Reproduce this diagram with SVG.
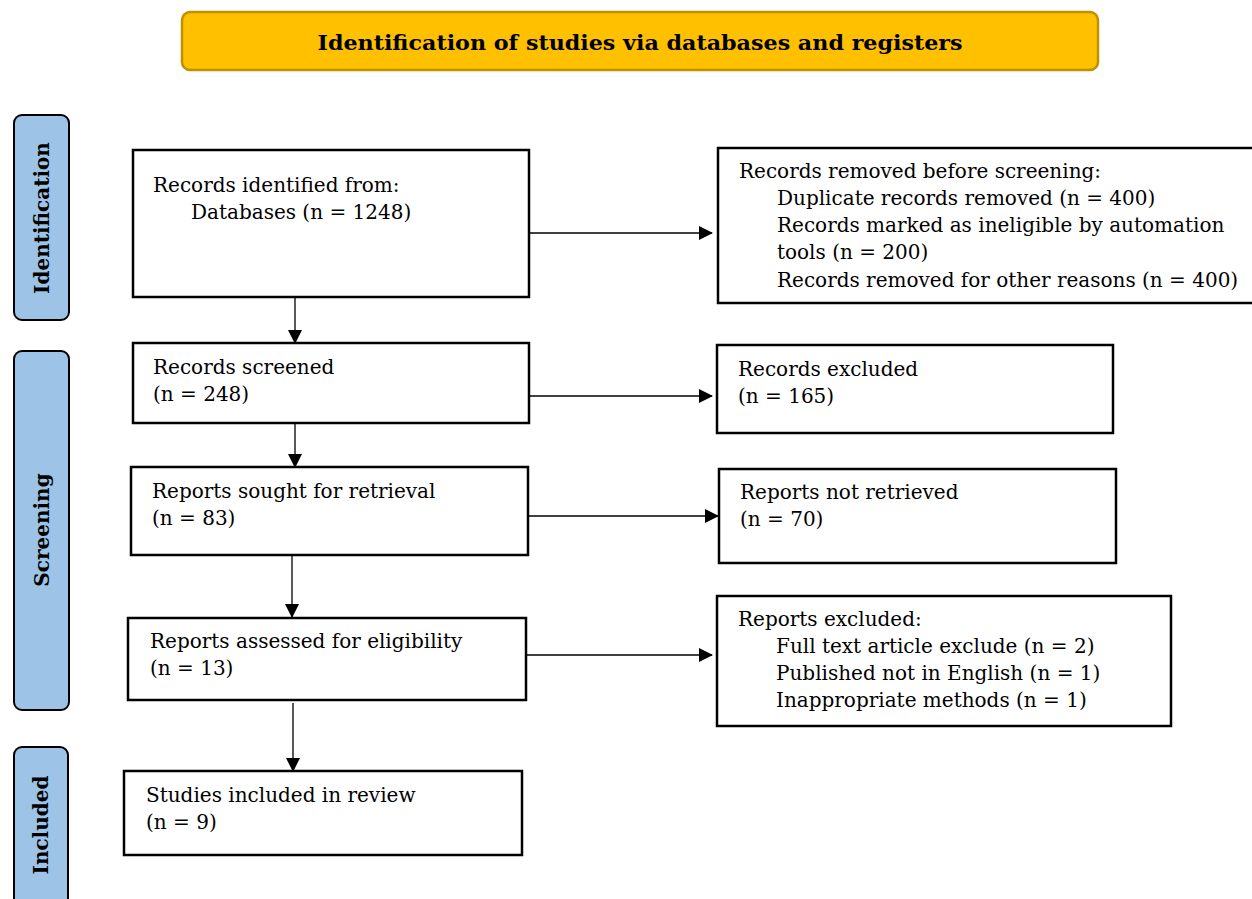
<svg xmlns="http://www.w3.org/2000/svg" width="1252" height="899" viewBox="0 0 1252 899">
<style>
.box{fill:#fff;stroke:#000;stroke-width:2.5}
.side{fill:#9DC3E6;stroke:#000;stroke-width:2}
.t{font-family:"DejaVu Serif","Liberation Serif",serif;font-size:20px;fill:#000}
.s{font-family:"DejaVu Serif","Liberation Serif",serif;font-size:20px;font-weight:bold;fill:#000}
.c{stroke:#000;stroke-width:1.3;fill:none}
</style>
<defs>
<marker id="ah" markerWidth="14" markerHeight="14" refX="13" refY="7" orient="auto" markerUnits="userSpaceOnUse">
<path d="M0,0 L14,7 L0,14 Z" fill="#000"/>
</marker>
</defs>
<rect width="1252" height="899" fill="#fff"/>
<g id="title">
<rect x="182" y="12" width="916" height="58" rx="8" fill="#FFC000" stroke="#BF9000" stroke-width="2.5"/>
<text x="640" y="50" text-anchor="middle" class="s" font-size="22" textLength="645" lengthAdjust="spacingAndGlyphs">Identification of studies via databases and registers</text>
</g>
<g id="side-identification">
<rect x="14" y="115" width="55" height="205" rx="8" class="side"/>
<text class="s" transform="translate(42,218) rotate(-90)" text-anchor="middle" dominant-baseline="central">Identification</text>
</g>
<g id="side-screening">
<rect x="14" y="351" width="55" height="359" rx="8" class="side"/>
<text class="s" transform="translate(42,530) rotate(-90)" text-anchor="middle" dominant-baseline="central">Screening</text>
</g>
<g id="side-included">
<rect x="14" y="747" width="54" height="170" rx="8" class="side"/>
<text class="s" transform="translate(41,825) rotate(-90)" text-anchor="middle" dominant-baseline="central">Included</text>
</g>
<g id="connectors">
<line x1="295" y1="297" x2="295" y2="343" class="c" marker-end="url(#ah)"/>
<line x1="295" y1="423" x2="295" y2="467" class="c" marker-end="url(#ah)"/>
<line x1="292" y1="555" x2="292" y2="617" class="c" marker-end="url(#ah)"/>
<line x1="293" y1="703" x2="293" y2="771" class="c" marker-end="url(#ah)"/>
<line x1="529" y1="233" x2="712" y2="233" class="c" marker-end="url(#ah)"/>
<line x1="529" y1="396" x2="712" y2="396" class="c" marker-end="url(#ah)"/>
<line x1="528" y1="516" x2="718" y2="516" class="c" marker-end="url(#ah)"/>
<line x1="526" y1="655" x2="712" y2="655" class="c" marker-end="url(#ah)"/>
</g>
<g id="identified">
<rect x="133" y="150" width="396" height="147" class="box"/>
<text class="t" x="153" y="192">Records identified from:</text>
<text class="t" x="191" y="219">Databases (n = 1248)</text>
</g>
<g id="removed">
<rect x="718" y="148" width="545" height="155" class="box"/>
<text class="t" x="739" y="178">Records removed before screening:</text>
<text class="t" x="777" y="205">Duplicate records removed (n = 400)</text>
<text class="t" x="777" y="232">Records marked as ineligible by automation</text>
<text class="t" x="777" y="259">tools (n = 200)</text>
<text class="t" x="777" y="287">Records removed for other reasons (n = 400)</text>
</g>
<g id="screened">
<rect x="133" y="343" width="396" height="80" class="box"/>
<text class="t" x="153" y="374">Records screened</text>
<text class="t" x="153" y="401">(n = 248)</text>
</g>
<g id="excluded">
<rect x="717" y="345" width="396" height="88" class="box"/>
<text class="t" x="738" y="376">Records excluded</text>
<text class="t" x="738" y="403">(n = 165)</text>
</g>
<g id="sought">
<rect x="131" y="467" width="397" height="88" class="box"/>
<text class="t" x="152" y="498">Reports sought for retrieval</text>
<text class="t" x="152" y="525">(n = 83)</text>
</g>
<g id="notretrieved">
<rect x="719" y="469" width="397" height="94" class="box"/>
<text class="t" x="740" y="499">Reports not retrieved</text>
<text class="t" x="740" y="526">(n = 70)</text>
</g>
<g id="assessed">
<rect x="128" y="618" width="398" height="82" class="box"/>
<text class="t" x="150" y="648">Reports assessed for eligibility</text>
<text class="t" x="150" y="675">(n = 13)</text>
</g>
<g id="reportsexcluded">
<rect x="717" y="596" width="454" height="130" class="box"/>
<text class="t" x="738" y="626">Reports excluded:</text>
<text class="t" x="776" y="653">Full text article exclude (n = 2)</text>
<text class="t" x="776" y="680">Published not in English (n = 1)</text>
<text class="t" x="776" y="707">Inappropriate methods (n = 1)</text>
</g>
<g id="included">
<rect x="124" y="771" width="398" height="84" class="box"/>
<text class="t" x="146" y="802">Studies included in review</text>
<text class="t" x="146" y="829">(n = 9)</text>
</g>
</svg>
